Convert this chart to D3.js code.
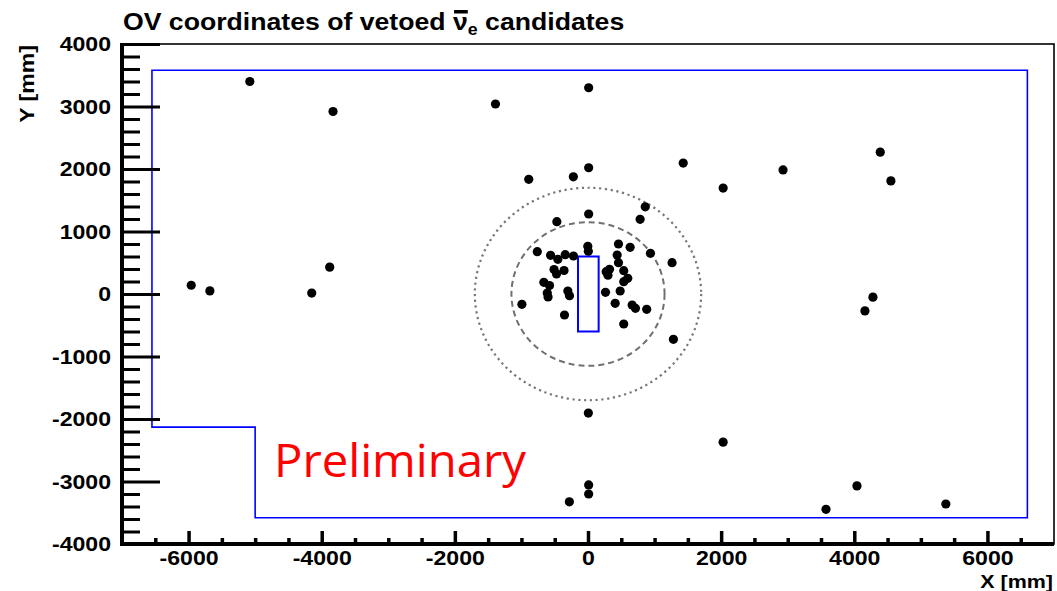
<!DOCTYPE html>
<html>
<head>
<meta charset="utf-8">
<script src="https://cdn.jsdelivr.net/npm/d3@7"></script>
<style>
  html, body { margin: 0; padding: 0; background: #fff; }
  svg { display: block; }
</style>
</head>
<body>
<svg id="chart" width="1057" height="591"></svg>
<script>
// ---------- data ----------
const titleMain = "OV coordinates of vetoed ";
const titleNu = "\u03BD";
const titleSub = "e";
const titleEnd = " candidates";
const xLabel = "X [mm]";
const yLabel = "Y [mm]";
const stampText = "Preliminary";

const xDomain = [-7000, 7000];
const yDomain = [-4000, 4000];
const xMajorTicks = [-6000, -4000, -2000, 0, 2000, 4000, 6000];
const xMinorTicks = [-6500, -5500, -5000, -4500, -3500, -3000, -2500, -1500, -1000, -500,
                     500, 1000, 1500, 2500, 3000, 3500, 4500, 5000, 5500, 6500];
const yMajorTicks = [-4000, -3000, -2000, -1000, 0, 1000, 2000, 3000, 4000];
const yMinorTicks = d3.range(-3800, 4000, 200).filter(v => v % 1000 !== 0);

// vetoed candidate coordinates (mm)
const candX = [-5080, -3830, -1390, 10, -890, -220, 10, 860, 783, 10, -468, -5960, -5680, -4150, -3880,
               1430, 2030, 2930, 4390, 4550, 4160, 4280, 5, 2030, -280, 10, 10, 3575, 4040, 5375,
               -762, -562, -453, -342, -218, -3, 5, -510, -473, -360, -663, -578, -612, -600, -303, -278, -993, -353,
               458, 633, 938, 1263, 438, 458, 273, 323, 300, 537, 597, 537, 263, 483, 408, 663, 713, 882, 537, 1283];
const candY = [3400, 2920, 3040, 3300, 1835, 1875, 2020, 1395, 1195, 1280, 1157, 140, 50, 15, 430,
               2095, 1695, 1985, 2270, 1810, -270, -50, -1905, -2370, -3325, -3055, -3200, -3445, -3070, -3360,
               677, 619, 555, 629, 608, 763, 685, 392, 320, 376, 187, 136, 16, -48, 48, -27, -165, -336,
               800, 747, 651, 501, 624, 501, 357, 395, 300, 373, 251, 197, 27, 48, -149, -176, -229, -245, -480, -725];

// outer OV boundary polygon (mm)
const outerPolyX = [-6550, 6600, 6600, -5000, -5000, -6550];
const outerPolyY = [3580, 3580, -3580, -3580, -2130, -2130];
// inner chimney rectangle (mm)
const innerRectX = [-150, 160];
const innerRectY = [-600, 600];
// reference circles (mm)
const dashedRadius = 1150;
const dottedRadius = 1700;

// ---------- drawing ----------
const svg = d3.select("#chart");
const W = 1057, H = 591;
svg.append("rect").attr("width", W).attr("height", H).attr("fill", "#fff");

const x = d3.scaleLinear().domain(xDomain).range([122, 1054]);
const y = d3.scaleLinear().domain(yDomain).range([544, 44]);

const font = "'Liberation Sans', Arial, Helvetica, sans-serif";
const stretch = 1.1;
const fmt = d => String(d);

// circles
const circG = svg.append("g");
circG.append("ellipse")
  .attr("cx", x(0)).attr("cy", y(0))
  .attr("rx", x(dottedRadius) - x(0)).attr("ry", y(0) - y(dottedRadius))
  .attr("fill", "none").attr("stroke", "#777").attr("stroke-width", 2.2)
  .attr("stroke-dasharray", "2.2,3.6");
circG.append("ellipse")
  .attr("cx", x(0)).attr("cy", y(0))
  .attr("rx", x(dashedRadius) - x(0)).attr("ry", y(0) - y(dashedRadius))
  .attr("fill", "none").attr("stroke", "#707070").attr("stroke-width", 2)
  .attr("stroke-dasharray", "6,4");

// blue boundaries
const poly = outerPolyX.map((v, i) => [x(v), y(outerPolyY[i])]);
svg.append("path")
  .attr("d", d3.line()(poly) + "Z")
  .attr("fill", "none").attr("stroke", "#0000ff").attr("stroke-width", 1.6);
svg.append("rect")
  .attr("x", x(innerRectX[0])).attr("y", y(innerRectY[1]))
  .attr("width", x(innerRectX[1]) - x(innerRectX[0]))
  .attr("height", y(innerRectY[0]) - y(innerRectY[1]))
  .attr("fill", "none").attr("stroke", "#0000ff").attr("stroke-width", 2);

// points
svg.append("g").selectAll("circle")
  .data(candX.map((v, i) => [v, candY[i]]))
  .join("circle")
  .attr("cx", d => x(d[0])).attr("cy", d => y(d[1]))
  .attr("r", 4.6).attr("fill", "#000");

// frame (thin)
svg.append("rect")
  .attr("x", x(xDomain[0])).attr("y", y(yDomain[1]))
  .attr("width", x(xDomain[1]) - x(xDomain[0]))
  .attr("height", y(yDomain[0]) - y(yDomain[1]))
  .attr("fill", "none").attr("stroke", "#000").attr("stroke-width", 1.6);

// Y axis
const yMinorAxis = d3.axisLeft(y).tickValues(yMinorTicks).tickSize(-18).tickFormat("");
const yMajorAxis = d3.axisLeft(y).tickValues(yMajorTicks).tickSize(-38).tickPadding(10).tickFormat(fmt);
const gyMinor = svg.append("g").attr("transform", `translate(${x(xDomain[0])},0)`).call(yMinorAxis);
const gyMajor = svg.append("g").attr("transform", `translate(${x(xDomain[0])},0)`).call(yMajorAxis);
[gyMinor, gyMajor].forEach(g => {
  g.select(".domain").remove();
  g.selectAll(".tick line").attr("stroke", "#000").attr("stroke-width", 3);
});
gyMajor.selectAll(".tick text")
  .attr("font-family", font).attr("font-weight", "bold").attr("font-size", 21)
  .attr("fill", "#000")
  .attr("transform", `scale(${stretch},1)`);

// X axis
const xMinorAxis = d3.axisBottom(x).tickValues(xMinorTicks).tickSize(-6).tickFormat("");
const xMajorAxis = d3.axisBottom(x).tickValues(xMajorTicks).tickSize(-13).tickPadding(6.5).tickFormat(fmt);
const gxMinor = svg.append("g").attr("transform", `translate(0,${y(yDomain[0])})`).call(xMinorAxis);
const gxMajor = svg.append("g").attr("transform", `translate(0,${y(yDomain[0])})`).call(xMajorAxis);
[gxMinor, gxMajor].forEach(g => {
  g.select(".domain").remove();
  g.selectAll(".tick line").attr("stroke", "#000").attr("stroke-width", 3.5);
});
gxMajor.selectAll(".tick text")
  .attr("font-family", font).attr("font-weight", "bold").attr("font-size", 21)
  .attr("fill", "#000")
  .attr("transform", `scale(${stretch},1)`);

// thick axis lines
svg.append("line")
  .attr("x1", x(xDomain[0])).attr("x2", x(xDomain[0]))
  .attr("y1", y(yDomain[1]) - 1).attr("y2", y(yDomain[0]) + 2)
  .attr("stroke", "#000").attr("stroke-width", 4);
svg.append("line")
  .attr("x1", x(xDomain[0]) - 2).attr("x2", x(xDomain[1]))
  .attr("y1", y(yDomain[0])).attr("y2", y(yDomain[0]))
  .attr("stroke", "#000").attr("stroke-width", 4);

// axis titles
svg.append("text")
  .attr("transform", `translate(1053,587.5) scale(1.13,1)`)
  .attr("text-anchor", "end")
  .attr("font-family", font).attr("font-weight", "bold").attr("font-size", 19)
  .text(xLabel);
svg.append("text")
  .attr("transform", `translate(34,45) rotate(-90) scale(${stretch},1)`)
  .attr("text-anchor", "end")
  .attr("font-family", font).attr("font-weight", "bold").attr("font-size", 21)
  .text(yLabel);

// title
const tg = svg.append("g").attr("transform", `translate(123,30) scale(1.11,1)`);
const tt = tg.append("text")
  .attr("font-family", font).attr("font-weight", "bold").attr("font-size", 24)
  .attr("fill", "#000");
tt.append("tspan").text(titleMain);
tt.append("tspan").text(titleNu);
tt.append("tspan").attr("font-size", 16).attr("dy", 5).text(titleSub);
tt.append("tspan").attr("dy", -5).text(titleEnd);
const nuIndex = titleMain.length;
const ext = tt.node().getExtentOfChar(nuIndex);
tg.append("rect")
  .attr("x", ext.x + 1).attr("y", -20)
  .attr("width", ext.width - 1).attr("height", 3.5)
  .attr("fill", "#000");

// Preliminary stamp
svg.append("text")
  .attr("x", 274).attr("y", 477)
  .attr("font-family", "'Open Sans', 'Noto Sans', sans-serif")
  .attr("font-size", 46).attr("fill", "#ff0000")
  .attr("textLength", 252).attr("lengthAdjust", "spacingAndGlyphs")
  .text(stampText);
</script>
</body>
</html>
